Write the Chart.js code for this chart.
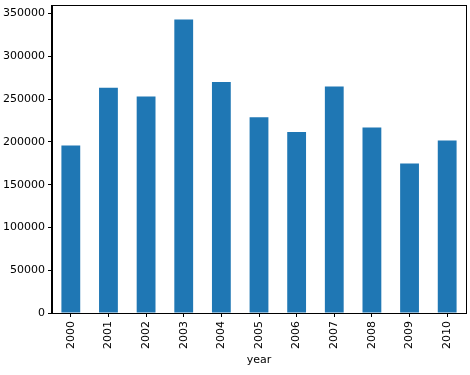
<!DOCTYPE html>
<html>
<head>
<meta charset="utf-8">
<script src="https://cdn.jsdelivr.net/npm/chart.js@4/dist/chart.umd.min.js"></script>
<style>
  html, body { margin: 0; padding: 0; background: #fff; }
  #wrap { width: 470px; height: 375px; }
</style>
</head>
<body>
<div id="wrap"><canvas id="yearChart" width="470" height="375"></canvas></div>
<script>
// values
const years = ['2000', '2001', '2002', '2003', '2004', '2005', '2006', '2007', '2008', '2009', '2010'];
const counts = [195700, 263300, 253100, 343000, 269900, 228900, 211700, 264800, 216800, 174600, 201600];
const yTicks = [0, 50000, 100000, 150000, 200000, 250000, 300000, 350000];
const yMax = 360000;

const tickFont = { family: 'DejaVu Sans', size: 11 };

// draws the top and right spines like matplotlib
const frameBox = {
    id: 'frameBox',
    afterDraw(chart) {
        const { ctx, chartArea: a } = chart;
        ctx.save();
        ctx.strokeStyle = '#000';
        ctx.lineWidth = 1;
        ctx.strokeRect(Math.round(a.left) - 0.5, Math.round(a.top) + 0.5, Math.round(a.right - a.left) + 1, Math.round(a.bottom - a.top));
        ctx.restore();
    }
};

const ctx = document.getElementById('yearChart').getContext('2d');
new Chart(ctx, {
    type: 'bar',
    data: {
        labels: years,
        datasets: [{
            label: 'count',
            data: counts,
            backgroundColor: '#1f77b4',
            barPercentage: 0.5,
            categoryPercentage: 1.0
        }]
    },
    options: {
        responsive: false,
        animation: false,
        layout: { padding: { top: 5, right: 4, left: 0, bottom: 0 } },
        plugins: { legend: { display: false }, tooltip: { enabled: false } },
        scales: {
            x: {
                grid: { display: true, drawOnChartArea: false, offset: false, tickLength: 4, color: '#000' },
                border: { display: true, color: '#000' },
                ticks: { minRotation: 90, maxRotation: 90, font: tickFont, color: '#000', padding: 4 },
                title: { display: true, text: 'year', font: tickFont, color: '#000', padding: { top: 0, bottom: 8 } },
                afterFit(scale) { scale.height = 62; }
            },
            y: {
                min: 0,
                max: yMax,
                grid: { display: true, drawOnChartArea: false, tickLength: 4, color: '#000' },
                border: { display: true, color: '#000' },
                ticks: { font: tickFont, color: '#000', padding: 3, autoSkip: false, callback: v => String(v) },
                afterFit(scale) { scale.width = 52; scale.paddingTop = 0; },
                afterBuildTicks(scale) { scale.ticks = yTicks.map(v => ({ value: v })); }
            }
        }
    },
    plugins: [frameBox]
});
</script>
</body>
</html>
